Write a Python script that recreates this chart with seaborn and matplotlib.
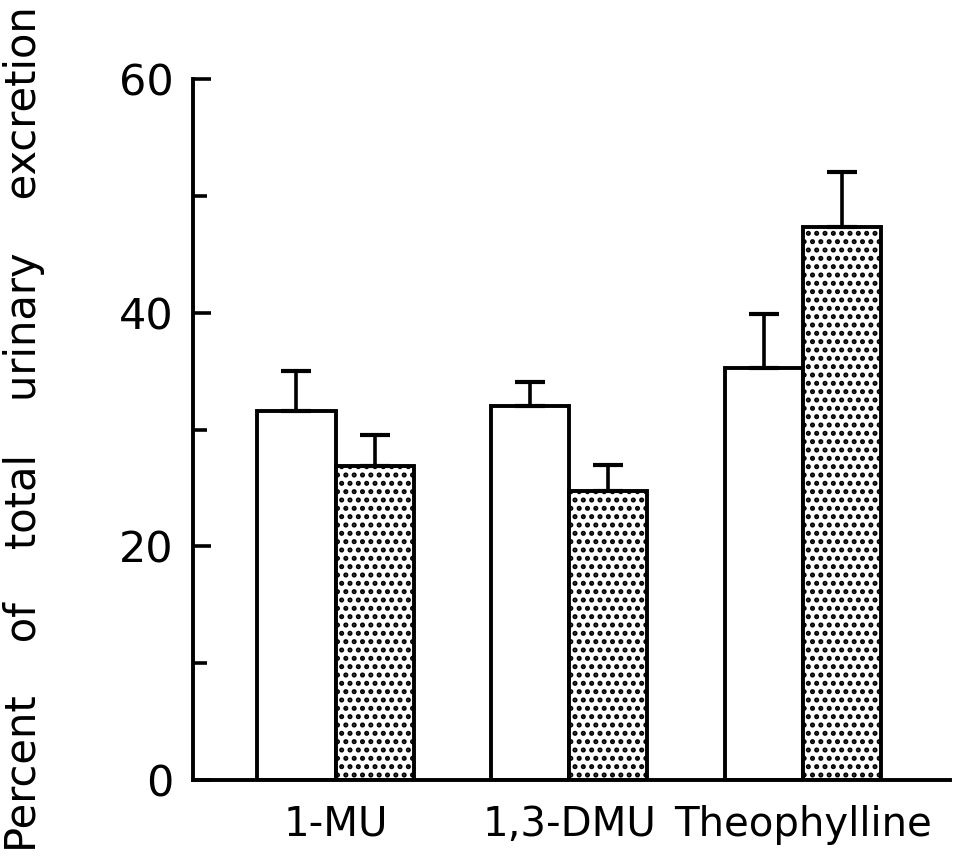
import matplotlib
matplotlib.use("Agg")
import matplotlib.pyplot as plt
import pandas as pd
import seaborn as sns

# values
categories = ["1-MU", "1,3-DMU", "Theophylline"]
groups = ["open", "dotted"]
means_open = [31.6, 32.0, 35.3]
means_dotted = [26.9, 24.7, 47.3]
err_open = [3.4, 2.1, 4.6]
err_dotted = [2.6, 2.3, 4.7]
y_ticks = [0, 20, 40, 60]
y_minor = [10, 30, 50]

df = pd.DataFrame({
    "compound": categories * 2,
    "group": [groups[0]] * 3 + [groups[1]] * 3,
    "value": means_open + means_dotted,
})
errs = {groups[0]: err_open, groups[1]: err_dotted}

sns.set_style("white")
plt.rcParams["font.family"] = ["DejaVu Sans"]
plt.rcParams["text.color"] = "black"
plt.rcParams["axes.labelcolor"] = "black"
plt.rcParams["xtick.color"] = "black"
plt.rcParams["ytick.color"] = "black"
plt.rcParams["hatch.linewidth"] = 2.4
plt.rcParams["hatch.color"] = "black"

fig = plt.figure(figsize=(9.57, 8.57), dpi=100)
ax = fig.add_axes([193 / 957, 1 - 780 / 857, (950 - 193) / 957, (780 - 79) / 857])

sns.barplot(data=df, x="compound", y="value", hue="group", order=categories,
            hue_order=groups, palette=["white", "white"], edgecolor="black",
            linewidth=2.8, width=0.67, gap=0, errorbar=None, legend=False, ax=ax)

for cont, g in zip(ax.containers, groups):
    xs, ys = [], []
    for bar in cont:
        if g == "dotted":
            bar.set_hatch("..")
        xs.append(bar.get_x() + bar.get_width() / 2)
        ys.append(bar.get_height())
    ax.errorbar(xs, ys, yerr=[[0] * len(xs), errs[g]], fmt="none",
                ecolor="black", elinewidth=2.6, capsize=10.5, capthick=3,
                zorder=1)

ax.set_xlim(-0.61, 2.63)
ax.set_ylim(0, 60)
ax.set_yticks(y_ticks)
ax.set_yticks(y_minor, minor=True)
ax.tick_params(axis="y", which="major", direction="in", length=13, width=2.6,
               labelsize=31, pad=14, left=True)
ax.tick_params(axis="y", which="minor", direction="in", length=10, width=2.6,
               left=True)
ax.tick_params(axis="x", length=0, labelsize=29, pad=18)

sns.despine(ax=ax)
for s in ["left", "bottom"]:
    ax.spines[s].set_linewidth(2.8)
    ax.spines[s].set_color("black")

ax.set_xlabel("")
ax.set_ylabel("Percent    of    total    urinary    excretion", fontsize=30)
ax.yaxis.set_label_coords(-0.195, 0.5)

fig.savefig("out.png", dpi=100, facecolor="white")
